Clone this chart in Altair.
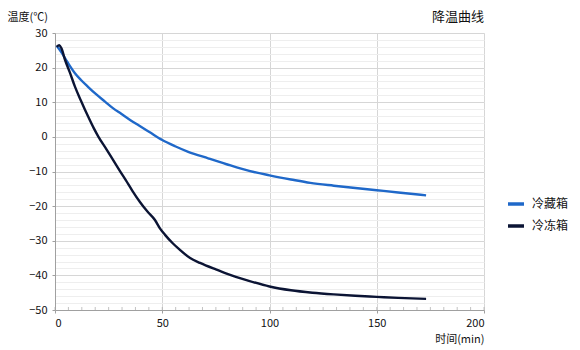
import altair as alt
import pandas as pd

series_names = ["冷藏箱", "冷冻箱"]
colors = ["#1f68c9", "#0b1434"]

t_fridge = [0.8, 3, 6, 9.3, 12, 15.5, 19, 23.3, 27, 31, 35, 38.8, 44, 50, 56, 62.1, 71.4, 80, 91, 100, 110, 119, 130, 140, 150, 160, 173]
v_fridge = [26.3, 24.4, 21.4, 18.4, 16.5, 14.4, 12.4, 10.2, 8.3, 6.6, 4.9, 3.4, 1.4, -0.9, -2.7, -4.3, -6.2, -7.9, -9.9, -11.1, -12.3, -13.3, -14.1, -14.75, -15.4, -16.05, -16.9]

t_freezer = [0.8, 2, 3, 4.7, 7, 9.3, 12, 15.5, 18, 20.2, 24, 27.2, 30, 33, 36, 39.6, 43, 46.6, 49, 51.3, 55, 58, 63, 67.6, 75, 80, 90, 100, 110, 120, 130, 140, 150, 160, 173]
v_freezer = [26.0, 26.5, 25.6, 22.2, 18.5, 14.5, 10.6, 5.8, 2.6, 0.1, -3.6, -6.8, -9.6, -12.5, -15.5, -18.8, -21.5, -24.0, -26.5, -28.3, -30.8, -32.5, -35.0, -36.4, -38.3, -39.5, -41.5, -43.2, -44.3, -45.0, -45.5, -45.9, -46.2, -46.5, -46.8]

x_major = [0, 50, 100, 150, 200]
x_minor = [i * 6.25 for i in range(33)]
y_major = list(range(-50, 31, 10))
y_minor = list(range(-50, 31, 2))

rows = []
for i, (t, v) in enumerate(zip(t_fridge, v_fridge)):
    rows.append({"t": t, "v": v, "s": series_names[0], "o": i})
for i, (t, v) in enumerate(zip(t_freezer, v_freezer)):
    rows.append({"t": t, "v": v, "s": series_names[1], "o": i})
df = pd.DataFrame(rows)
df_minor = pd.DataFrame({"t": x_minor})

FONT = "Noto Sans CJK SC"
W, H = 429, 277

xscale = alt.Scale(domain=[0, 200], nice=False)
yscale = alt.Scale(domain=[-50, 30], nice=False)

# minor horizontal grid (axis on the right, no labels)
minor = alt.Chart(df).mark_line(opacity=0).encode(
    x=alt.X("t:Q", scale=xscale, axis=None),
    y=alt.Y("v:Q", scale=yscale, axis=alt.Axis(
        orient="right", values=y_minor, labels=False, domain=False, ticks=False,
        grid=True, gridColor="#eeeeee", gridWidth=1, title=None)),
)

# minor x ticks pointing into the plot
minor_ticks = alt.Chart(df_minor).mark_tick(color="#a8a8a8", size=3, thickness=1).encode(
    x=alt.X("t:Q", scale=xscale, axis=None),
    y=alt.value(H - 1.5),
)

lines = alt.Chart(df).mark_line(strokeWidth=2.4, interpolate="monotone").encode(
    x=alt.X("t:Q", scale=xscale, axis=alt.Axis(
        orient="bottom", values=x_major, grid=True, gridColor="#d6d6d6",
        domainColor="#a0a0a0", tickColor="#a0a0a0", tickSize=3,
        labelFont=FONT, labelFontSize=11, labelColor="#111111", labelPadding=4,
        title="时间(min)", titleFont=FONT, titleFontSize=11, titleFontWeight="normal",
        titleColor="#111111", titleAngle=0, titleX=W, titleY=29, titleAlign="right",
        titleBaseline="middle")),
    y=alt.Y("v:Q", scale=yscale, axis=alt.Axis(
        orient="left", values=y_major, grid=True, gridColor="#d6d6d6",
        domainColor="#a0a0a0", tickColor="#a0a0a0", tickSize=3,
        labelFont=FONT, labelFontSize=11, labelColor="#111111", labelPadding=5,
        title="温度(℃)", titleFont=FONT, titleFontSize=11, titleFontWeight="normal",
        titleColor="#111111", titleAngle=0, titleX=-48, titleY=-16, titleAlign="left",
        titleBaseline="middle")),
    color=alt.Color("s:N", scale=alt.Scale(domain=series_names, range=colors),
                    legend=alt.Legend(
                        title=None, orient="none", legendX=451, legendY=161,
                        symbolType="stroke", symbolSize=256, symbolStrokeWidth=3.5,
                        labelFont=FONT, labelFontSize=12, labelColor="#111111",
                        rowPadding=5, labelOffset=6)),
    order="o:Q",
)

chart = alt.layer(minor, minor_ticks, lines).resolve_axis(x="independent", y="independent").properties(
    width=W, height=H,
    autosize=alt.AutoSizeParams(type="none"),
    padding={"left": 55, "top": 33, "right": 96, "bottom": 40},
    title=alt.TitleParams("降温曲线", anchor="end", frame="group", font=FONT, fontSize=13,
                          fontWeight="normal", color="#111111", offset=10, dy=23),
).configure_view(stroke="#cfcfcf", strokeWidth=1).configure(background="white")

chart.save("out.html", embed_options={"renderer": "svg", "actions": False})
